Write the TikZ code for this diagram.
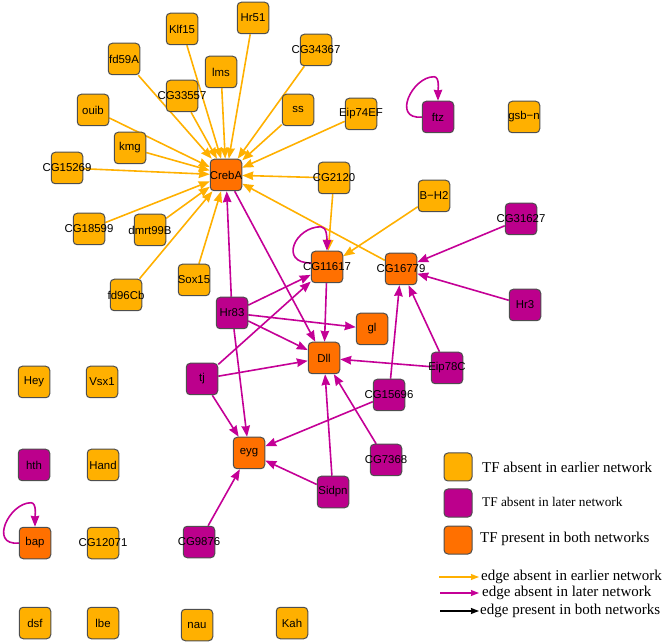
\documentclass[tikz,border=0pt]{standalone}
\usepackage{fontspec}
\setmainfont{Liberation Serif}
\newfontfamily\nodefont{Liberation Sans}
\usetikzlibrary{arrows.meta}
\pgfdeclarelayer{bg}
\pgfsetlayers{bg,main}
\definecolor{cy}{RGB}{255,176,0}
\definecolor{cp}{RGB}{188,0,140}
\definecolor{co}{RGB}{255,112,0}
\definecolor{bd}{RGB}{78,78,78}
\definecolor{ey}{RGB}{255,176,0}
\definecolor{em}{RGB}{196,0,150}
\newcommand{\lb}[1]{\makebox[0pt]{#1}}
\begin{document}
\begin{tikzpicture}[x=1pt,y=-1pt,
  tf/.style={draw=bd,line width=1pt,rounded corners=4pt,minimum size=31.5pt,inner sep=0pt,
    font=\nodefont\fontsize{11.4}{12}\selectfont},
  tfy/.style={tf,fill=cy}, tfp/.style={tf,fill=cp}, tfo/.style={tf,fill=co},
  lgbox/.style={minimum size=28pt},
  tip/.style={-{Stealth[length=11pt,width=8.5pt,inset=0.8pt]}},
  ltip/.style={-{Stealth[length=8pt,width=6pt,inset=0.6pt]}},
  yedge/.style={draw=ey,line width=1.6pt,tip},
  medge/.style={draw=em,line width=1.6pt,tip},
  kedge/.style={draw=black,line width=1.6pt,tip},
  ltext/.style={anchor=west,inner sep=0pt,font=\fontsize{15}{17}\selectfont}]
\useasboundingbox (0,0) rectangle (662,644);

% nodes
\node[tfy] (klf15) at (182,29) {\lb{Klf15}};
\node[tfy] (hr51) at (253,18) {\lb{Hr51}};
\node[tfy] (fd59a) at (124,59) {\lb{fd59A}};
\node[tfy] (lms) at (221,72) {\lb{lms}};
\node[tfy] (cg34367) at (316,50) {\lb{CG34367}};
\node[tfy] (cg33557) at (182,96) {\lb{CG33557}};
\node[tfy] (ouib) at (93,110) {\lb{ouib}};
\node[tfy] (ss) at (298,110) {\lb{ss}};
\node[tfy] (eip74ef) at (361,114) {\lb{Eip74EF}};
\node[tfp] (ftz) at (438,117) {\lb{ftz}};
\node[tfy] (gsbn) at (524,117) {\lb{gsb−n}};
\node[tfy] (kmg) at (130,148) {\lb{kmg}};
\node[tfy] (cg15269) at (67,168) {\lb{CG15269}};
\node[tfo] (creba) at (226,175) {\lb{CrebA}};
\node[tfy] (cg2120) at (334,178) {\lb{CG2120}};
\node[tfy] (bh2) at (434,196) {\lb{B−H2}};
\node[tfy] (cg18599) at (89,229) {\lb{CG18599}};
\node[tfy] (dmrt99b) at (150,230) {\lb{dmrt99B}};
\node[tfp] (cg31627) at (521,219) {\lb{CG31627}};
\node[tfo] (cg11617) at (327,267) {\lb{CG11617}};
\node[tfo] (cg16779) at (401,269) {\lb{CG16779}};
\node[tfy] (sox15) at (194,280) {\lb{Sox15}};
\node[tfy] (fd96cb) at (126,295) {\lb{fd96Cb}};
\node[tfp] (hr3) at (525,305) {\lb{Hr3}};
\node[tfp] (hr83) at (232,313) {\lb{Hr83}};
\node[tfo] (gl) at (372,329) {\lb{gl}};
\node[tfo] (dll) at (324,358) {\lb{Dll}};
\node[tfp] (eip78c) at (447,368) {\lb{Eip78C}};
\node[tfp] (tj) at (202,379) {\lb{tj}};
\node[tfy] (hey) at (34,382) {\lb{Hey}};
\node[tfy] (vsx1) at (102,382) {\lb{Vsx1}};
\node[tfp] (cg15696) at (389,395) {\lb{CG15696}};
\node[tfo] (eyg) at (249,453) {\lb{eyg}};
\node[tfp] (cg7368) at (386,460) {\lb{CG7368}};
\node[tfp] (hth) at (34,465) {\lb{hth}};
\node[tfy] (hand) at (103,465) {\lb{Hand}};
\node[tfp] (sidpn) at (333,492) {\lb{Sidpn}};
\node[tfo] (bap) at (35,543) {\lb{bap}};
\node[tfy] (cg12071) at (103,543) {\lb{CG12071}};
\node[tfp] (cg9876) at (199,542) {\lb{CG9876}};
\node[tfy] (dsf) at (35,623) {\lb{dsf}};
\node[tfy] (lbe) at (103,623) {\lb{lbe}};
\node[tfy] (nau) at (197,625) {\lb{nau}};
\node[tfy] (kah) at (292,623) {\lb{Kah}};

% edges
\begin{pgfonlayer}{bg}
\foreach \s in {klf15,hr51,fd59a,lms,cg34367,cg33557,ouib,ss,eip74ef,kmg,cg15269,cg2120,cg18599,dmrt99b,fd96cb,sox15,cg16779}
  \draw[yedge] (\s) -- (creba);
\draw[yedge] (cg2120) -- (cg11617);
\draw[yedge] (bh2) -- (cg11617);

\draw[medge] (hr83) -- (creba);
\draw[medge] (creba) -- (dll);
\draw[medge] (hr83) -- (cg11617);
\draw[medge] (tj) -- (cg11617);
\draw[medge] (hr83) -- (gl);
\draw[medge] (hr83) -- (dll);
\draw[medge] (tj) -- (dll);
\draw[medge] (cg11617) -- (dll);
\draw[medge] (hr83) -- (eyg);
\draw[medge] (tj) -- (eyg);
\draw[medge] (cg15696) -- (eyg);
\draw[medge] (cg15696) -- (cg16779);
\draw[medge] (eip78c) -- (cg16779);
\draw[medge] (eip78c) -- (dll);
\draw[medge] (cg31627) -- (cg16779);
\draw[medge] (hr3) -- (cg16779);
\draw[medge] (sidpn) -- (dll);
\draw[medge] (cg7368) -- (dll);
\draw[medge] (sidpn) -- (eyg);
\draw[medge] (cg9876) -- (eyg);

% self loops
\draw[medge] ([yshift=4pt]cg11617.west) .. controls +(-32,0) and +(-26,0) .. ([yshift=24pt,xshift=-6pt]cg11617.north)
  .. controls +(6,0) and +(0,-12) .. (cg11617.north);
\draw[medge] (ftz.west) .. controls +(-30,3) and +(-22,0) .. ([yshift=24pt,xshift=-4pt]ftz.north)
  .. controls +(6,0) and +(0,-10) .. (ftz.north);
\draw[medge] (bap.west) .. controls +(-30,3) and +(-22,0) .. ([yshift=24pt,xshift=-4pt]bap.north)
  .. controls +(6,0) and +(0,-10) .. (bap.north);
\end{pgfonlayer}

% legend
\node[tfy,lgbox] (lg1) at (458,467) {};
\node[tfp,lgbox] (lg2) at (458,503) {};
\node[tfo,lgbox] (lg3) at (458,540) {};
\node[ltext] (lt1) at (482,467) {TF absent in earlier network};
\node[ltext,font=\fontsize{13.3}{15}\selectfont] (lt2) at (482,502) {TF absent in later network};
\node[ltext] (lt3) at (480,539) {TF present in both networks};
\coordinate (la1) at (439,577);
\coordinate (la2) at (440,593);
\coordinate (la3) at (440,611);
\node[ltext] (le1) at (481,577) {edge absent in earlier network};
\node[ltext] (le2) at (482,593) {edge absent in later network};
\node[ltext] (le3) at (480,611) {edge present in both networks};
\draw[yedge,ltip,line width=1.4pt,shorten >=2pt] (la1) -- (le1.west);
\draw[medge,ltip,line width=1.4pt,shorten >=3pt] (la2) -- (le2.west);
\draw[kedge,ltip,line width=1.4pt,shorten >=1pt] (la3) -- (le3.west);
\end{tikzpicture}
\end{document}
